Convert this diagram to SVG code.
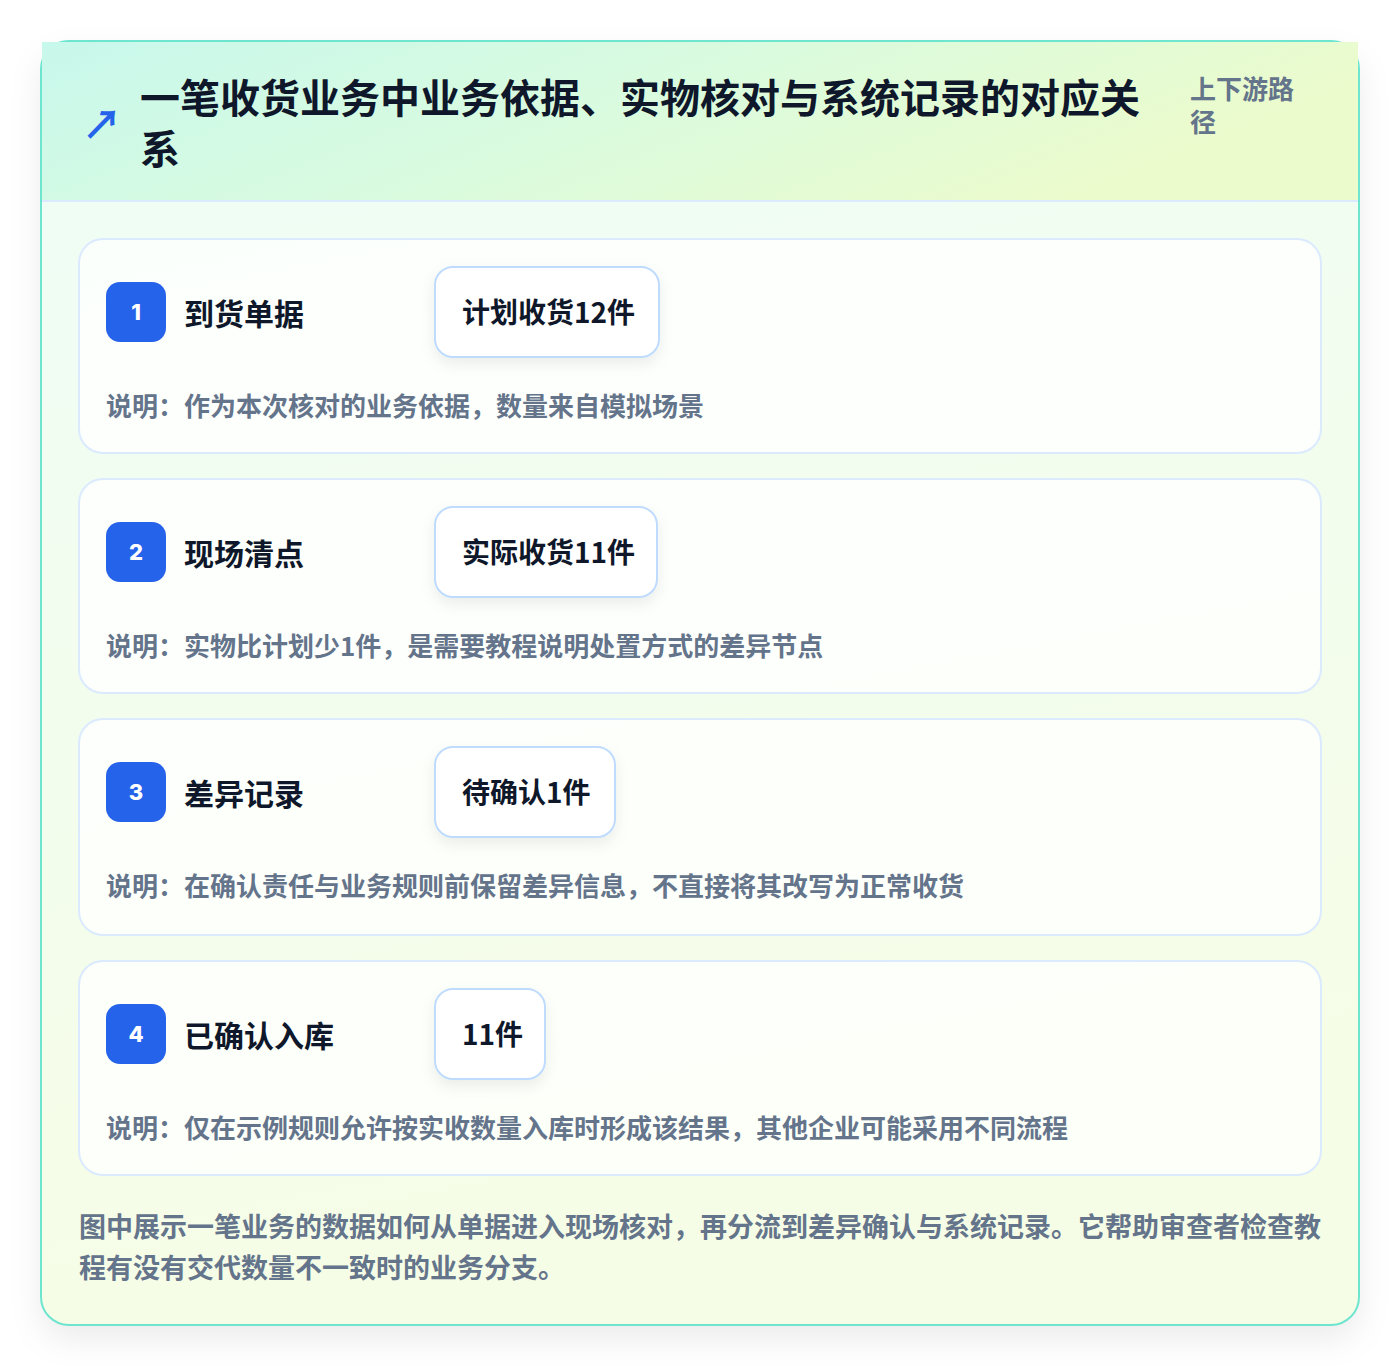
<svg xmlns="http://www.w3.org/2000/svg" width="1400" height="1366" viewBox="0 0 1400 1366">
<defs>
<linearGradient id="hdr" x1="0" y1="0" x2="1" y2="0.3">
<stop offset="0" stop-color="#c8f8ec"/>
<stop offset="0.5" stop-color="#d9fbdf"/>
<stop offset="1" stop-color="#ecfbcc"/>
</linearGradient>
<linearGradient id="body" x1="0" y1="0" x2="0.2" y2="1">
<stop offset="0" stop-color="#effdf6"/>
<stop offset="1" stop-color="#f6fde6"/>
</linearGradient>
<filter id="cardShadow" x="-10%" y="-10%" width="120%" height="125%">
<feDropShadow dx="0" dy="14" stdDeviation="16" flood-color="#0f172a" flood-opacity="0.08"/>
</filter>
<filter id="chipShadow" x="-20%" y="-20%" width="140%" height="160%">
<feDropShadow dx="0" dy="6" stdDeviation="7" flood-color="#0f172a" flood-opacity="0.07"/>
</filter>
</defs>
<style>
text { font-family: "Noto Sans CJK SC", "Noto Sans", sans-serif; font-weight: 700; }
.title { font-size: 40px; fill: #0f172a; }
.sub { font-size: 26px; fill: #64748b; }
.row { fill: #ffffff; fill-opacity: 0.75; stroke: #dbeafe; stroke-width: 2; }
.badge { fill: #2563eb; }
.num { font-size: 22px; fill: #ffffff; font-family: "Inter", "Noto Sans", sans-serif; font-weight: 800; }
.label { font-size: 30px; fill: #0f172a; }
.chip { fill: #ffffff; stroke: #bfdbfe; stroke-width: 2; }
.chiptxt { font-size: 28px; fill: #0f172a; }
.desc { font-size: 26px; fill: #64748b; }
.foot { font-size: 27px; fill: #64748b; }
</style>
<rect width="1400" height="1366" fill="#ffffff"/>
<g id="card">
<rect x="41" y="41" width="1318" height="1284" rx="28" fill="url(#body)" filter="url(#cardShadow)"/>
<rect x="41" y="41" width="1318" height="1284" rx="28" fill="none" stroke="#6ee5cf" stroke-width="2"/>
<rect x="42" y="42" width="1316" height="159" fill="url(#hdr)"/>
<line x1="42" y1="201" x2="1358" y2="201" stroke="#dbeafe" stroke-width="2"/>
</g>
<g id="header">
<text x="102" y="139" font-size="40" fill="#2563eb" text-anchor="middle">↗</text>
<text class="title" x="140" y="113">一笔收货业务中业务依据、实物核对与系统记录的对应关</text>
<text class="title" x="140" y="164">系</text>
<text class="sub" x="1190" y="99">上下游路</text>
<text class="sub" x="1190" y="132">径</text>
</g>
<g id="connectors"></g>
<g id="step1">
<rect class="row" x="79" y="239" width="1242" height="214" rx="24"/>
<rect class="badge" x="106" y="282" width="60" height="60" rx="14"/>
<text class="num" x="136" y="320" text-anchor="middle">1</text>
<text class="label" x="184" y="325">到货单据</text>
<rect class="chip" x="435" y="267" width="224" height="90" rx="18" filter="url(#chipShadow)"/>
<text class="chiptxt" x="462" y="323">计划收货12件</text>
<text class="desc" x="106" y="416">说明：作为本次核对的业务依据，数量来自模拟场景</text>
</g>
<g id="step2">
<rect class="row" x="79" y="479" width="1242" height="214" rx="24"/>
<rect class="badge" x="106" y="522" width="60" height="60" rx="14"/>
<text class="num" x="136" y="560" text-anchor="middle">2</text>
<text class="label" x="184" y="565">现场清点</text>
<rect class="chip" x="435" y="507" width="222" height="90" rx="18" filter="url(#chipShadow)"/>
<text class="chiptxt" x="462" y="563">实际收货11件</text>
<text class="desc" x="106" y="656">说明：实物比计划少1件，是需要教程说明处置方式的差异节点</text>
</g>
<g id="step3">
<rect class="row" x="79" y="719" width="1242" height="216" rx="24"/>
<rect class="badge" x="106" y="762" width="60" height="60" rx="14"/>
<text class="num" x="136" y="800" text-anchor="middle">3</text>
<text class="label" x="184" y="805">差异记录</text>
<rect class="chip" x="435" y="747" width="180" height="90" rx="18" filter="url(#chipShadow)"/>
<text class="chiptxt" x="462" y="803">待确认1件</text>
<text class="desc" x="106" y="896">说明：在确认责任与业务规则前保留差异信息，不直接将其改写为正常收货</text>
</g>
<g id="step4">
<rect class="row" x="79" y="961" width="1242" height="214" rx="24"/>
<rect class="badge" x="106" y="1004" width="60" height="60" rx="14"/>
<text class="num" x="136" y="1042" text-anchor="middle">4</text>
<text class="label" x="184" y="1047">已确认入库</text>
<rect class="chip" x="435" y="989" width="110" height="90" rx="18" filter="url(#chipShadow)"/>
<text class="chiptxt" x="462" y="1045">11件</text>
<text class="desc" x="106" y="1138">说明：仅在示例规则允许按实收数量入库时形成该结果，其他企业可能采用不同流程</text>
</g>
<g id="footer">
<text class="foot" x="79" y="1237">图中展示一笔业务的数据如何从单据进入现场核对，再分流到差异确认与系统记录。它帮助审查者检查教</text>
<text class="foot" x="79" y="1278">程有没有交代数量不一致时的业务分支。</text>
</g>
</svg>
